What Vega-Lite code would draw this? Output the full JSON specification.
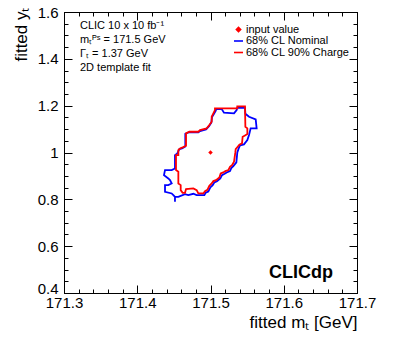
{
  "$schema": "https://vega.github.io/schema/vega-lite/v6.json",
  "width": 293,
  "height": 281,
  "autosize": {"type": "none"},
  "padding": {"left": 64, "top": 12, "right": 42, "bottom": 45},
  "background": "white",
  "datasets": {
    "nominal": [
      {"series": "68% CL Nominal", "i": 1, "mt": 171.5075, "yt": 1.1798},
      {"series": "68% CL Nominal", "i": 2, "mt": 171.5075, "yt": 1.1855},
      {"series": "68% CL Nominal", "i": 3, "mt": 171.5153, "yt": 1.1855},
      {"series": "68% CL Nominal", "i": 4, "mt": 171.5184, "yt": 1.1698},
      {"series": "68% CL Nominal", "i": 5, "mt": 171.5321, "yt": 1.1670},
      {"series": "68% CL Nominal", "i": 6, "mt": 171.5357, "yt": 1.1812},
      {"series": "68% CL Nominal", "i": 7, "mt": 171.5366, "yt": 1.1912},
      {"series": "68% CL Nominal", "i": 8, "mt": 171.5471, "yt": 1.1912},
      {"series": "68% CL Nominal", "i": 9, "mt": 171.5476, "yt": 1.1655},
      {"series": "68% CL Nominal", "i": 10, "mt": 171.5526, "yt": 1.1527},
      {"series": "68% CL Nominal", "i": 11, "mt": 171.5617, "yt": 1.1413},
      {"series": "68% CL Nominal", "i": 12, "mt": 171.5630, "yt": 1.1029},
      {"series": "68% CL Nominal", "i": 13, "mt": 171.5548, "yt": 1.1029},
      {"series": "68% CL Nominal", "i": 14, "mt": 171.5526, "yt": 1.0744},
      {"series": "68% CL Nominal", "i": 15, "mt": 171.5503, "yt": 1.0530},
      {"series": "68% CL Nominal", "i": 16, "mt": 171.5457, "yt": 1.0345},
      {"series": "68% CL Nominal", "i": 17, "mt": 171.5403, "yt": 1.0302},
      {"series": "68% CL Nominal", "i": 18, "mt": 171.5385, "yt": 1.0174},
      {"series": "68% CL Nominal", "i": 19, "mt": 171.5366, "yt": 1.0003},
      {"series": "68% CL Nominal", "i": 20, "mt": 171.5353, "yt": 0.9576},
      {"series": "68% CL Nominal", "i": 21, "mt": 171.5312, "yt": 0.9419},
      {"series": "68% CL Nominal", "i": 22, "mt": 171.5284, "yt": 0.9333},
      {"series": "68% CL Nominal", "i": 23, "mt": 171.5266, "yt": 0.9205},
      {"series": "68% CL Nominal", "i": 24, "mt": 171.5221, "yt": 0.9148},
      {"series": "68% CL Nominal", "i": 25, "mt": 171.5193, "yt": 0.9091},
      {"series": "68% CL Nominal", "i": 26, "mt": 171.5157, "yt": 0.9034},
      {"series": "68% CL Nominal", "i": 27, "mt": 171.5134, "yt": 0.8892},
      {"series": "68% CL Nominal", "i": 28, "mt": 171.5089, "yt": 0.8778},
      {"series": "68% CL Nominal", "i": 29, "mt": 171.5052, "yt": 0.8721},
      {"series": "68% CL Nominal", "i": 30, "mt": 171.5030, "yt": 0.8607},
      {"series": "68% CL Nominal", "i": 31, "mt": 171.4998, "yt": 0.8507},
      {"series": "68% CL Nominal", "i": 32, "mt": 171.4970, "yt": 0.8336},
      {"series": "68% CL Nominal", "i": 33, "mt": 171.4934, "yt": 0.8279},
      {"series": "68% CL Nominal", "i": 34, "mt": 171.4916, "yt": 0.8180},
      {"series": "68% CL Nominal", "i": 35, "mt": 171.4811, "yt": 0.8180},
      {"series": "68% CL Nominal", "i": 36, "mt": 171.4766, "yt": 0.8237},
      {"series": "68% CL Nominal", "i": 37, "mt": 171.4697, "yt": 0.8180},
      {"series": "68% CL Nominal", "i": 38, "mt": 171.4652, "yt": 0.8222},
      {"series": "68% CL Nominal", "i": 39, "mt": 171.4561, "yt": 0.8108},
      {"series": "68% CL Nominal", "i": 40, "mt": 171.4515, "yt": 0.8108},
      {"series": "68% CL Nominal", "i": 41, "mt": 171.4515, "yt": 0.7895},
      {"series": "68% CL Nominal", "i": 42, "mt": 171.4515, "yt": 0.8108},
      {"series": "68% CL Nominal", "i": 43, "mt": 171.4493, "yt": 0.8180},
      {"series": "68% CL Nominal", "i": 44, "mt": 171.4470, "yt": 0.8251},
      {"series": "68% CL Nominal", "i": 45, "mt": 171.4379, "yt": 0.8322},
      {"series": "68% CL Nominal", "i": 46, "mt": 171.4379, "yt": 0.8607},
      {"series": "68% CL Nominal", "i": 47, "mt": 171.4424, "yt": 0.8607},
      {"series": "68% CL Nominal", "i": 48, "mt": 171.4470, "yt": 0.8678},
      {"series": "68% CL Nominal", "i": 49, "mt": 171.4447, "yt": 0.8821},
      {"series": "68% CL Nominal", "i": 50, "mt": 171.4424, "yt": 0.8892},
      {"series": "68% CL Nominal", "i": 51, "mt": 171.4365, "yt": 0.9034},
      {"series": "68% CL Nominal", "i": 52, "mt": 171.4379, "yt": 0.9248},
      {"series": "68% CL Nominal", "i": 53, "mt": 171.4470, "yt": 0.9248},
      {"series": "68% CL Nominal", "i": 54, "mt": 171.4515, "yt": 0.9319},
      {"series": "68% CL Nominal", "i": 55, "mt": 171.4515, "yt": 0.9889},
      {"series": "68% CL Nominal", "i": 56, "mt": 171.4547, "yt": 0.9960},
      {"series": "68% CL Nominal", "i": 57, "mt": 171.4575, "yt": 1.0145},
      {"series": "68% CL Nominal", "i": 58, "mt": 171.4611, "yt": 1.0174},
      {"series": "68% CL Nominal", "i": 59, "mt": 171.4656, "yt": 1.0259},
      {"series": "68% CL Nominal", "i": 60, "mt": 171.4656, "yt": 1.0801},
      {"series": "68% CL Nominal", "i": 61, "mt": 171.4702, "yt": 1.0858},
      {"series": "68% CL Nominal", "i": 62, "mt": 171.4834, "yt": 1.0858},
      {"series": "68% CL Nominal", "i": 63, "mt": 171.4857, "yt": 1.0915},
      {"series": "68% CL Nominal", "i": 64, "mt": 171.4939, "yt": 1.0986},
      {"series": "68% CL Nominal", "i": 65, "mt": 171.4980, "yt": 1.1128},
      {"series": "68% CL Nominal", "i": 66, "mt": 171.5011, "yt": 1.1271},
      {"series": "68% CL Nominal", "i": 67, "mt": 171.5021, "yt": 1.1513},
      {"series": "68% CL Nominal", "i": 68, "mt": 171.5048, "yt": 1.1655},
      {"series": "68% CL Nominal", "i": 69, "mt": 171.5075, "yt": 1.1798}
    ],
    "charge": [
      {"series": "68% CL 90% Charge", "i": 1, "mt": 171.5061, "yt": 1.1812},
      {"series": "68% CL 90% Charge", "i": 2, "mt": 171.5061, "yt": 1.1883},
      {"series": "68% CL 90% Charge", "i": 3, "mt": 171.5366, "yt": 1.1883},
      {"series": "68% CL 90% Charge", "i": 4, "mt": 171.5366, "yt": 1.1969},
      {"series": "68% CL 90% Charge", "i": 5, "mt": 171.5471, "yt": 1.1969},
      {"series": "68% CL 90% Charge", "i": 6, "mt": 171.5476, "yt": 1.1100},
      {"series": "68% CL 90% Charge", "i": 7, "mt": 171.5503, "yt": 1.1029},
      {"series": "68% CL 90% Charge", "i": 8, "mt": 171.5503, "yt": 1.0786},
      {"series": "68% CL 90% Charge", "i": 9, "mt": 171.5471, "yt": 1.0729},
      {"series": "68% CL 90% Charge", "i": 10, "mt": 171.5439, "yt": 1.0672},
      {"series": "68% CL 90% Charge", "i": 11, "mt": 171.5430, "yt": 1.0388},
      {"series": "68% CL 90% Charge", "i": 12, "mt": 171.5394, "yt": 1.0331},
      {"series": "68% CL 90% Charge", "i": 13, "mt": 171.5371, "yt": 1.0245},
      {"series": "68% CL 90% Charge", "i": 14, "mt": 171.5344, "yt": 1.0145},
      {"series": "68% CL 90% Charge", "i": 15, "mt": 171.5339, "yt": 1.0003},
      {"series": "68% CL 90% Charge", "i": 16, "mt": 171.5321, "yt": 0.9604},
      {"series": "68% CL 90% Charge", "i": 17, "mt": 171.5294, "yt": 0.9462},
      {"series": "68% CL 90% Charge", "i": 18, "mt": 171.5266, "yt": 0.9390},
      {"series": "68% CL 90% Charge", "i": 19, "mt": 171.5244, "yt": 0.9248},
      {"series": "68% CL 90% Charge", "i": 20, "mt": 171.5203, "yt": 0.9205},
      {"series": "68% CL 90% Charge", "i": 21, "mt": 171.5175, "yt": 0.9148},
      {"series": "68% CL 90% Charge", "i": 22, "mt": 171.5139, "yt": 0.9105},
      {"series": "68% CL 90% Charge", "i": 23, "mt": 171.5121, "yt": 0.8935},
      {"series": "68% CL 90% Charge", "i": 24, "mt": 171.5075, "yt": 0.8821},
      {"series": "68% CL 90% Charge", "i": 25, "mt": 171.5039, "yt": 0.8778},
      {"series": "68% CL 90% Charge", "i": 26, "mt": 171.5016, "yt": 0.8678},
      {"series": "68% CL 90% Charge", "i": 27, "mt": 171.4984, "yt": 0.8578},
      {"series": "68% CL 90% Charge", "i": 28, "mt": 171.4957, "yt": 0.8407},
      {"series": "68% CL 90% Charge", "i": 29, "mt": 171.4925, "yt": 0.8350},
      {"series": "68% CL 90% Charge", "i": 30, "mt": 171.4902, "yt": 0.8251},
      {"series": "68% CL 90% Charge", "i": 31, "mt": 171.4834, "yt": 0.8251},
      {"series": "68% CL 90% Charge", "i": 32, "mt": 171.4811, "yt": 0.8393},
      {"series": "68% CL 90% Charge", "i": 33, "mt": 171.4766, "yt": 0.8464},
      {"series": "68% CL 90% Charge", "i": 34, "mt": 171.4666, "yt": 0.8436},
      {"series": "68% CL 90% Charge", "i": 35, "mt": 171.4652, "yt": 0.8279},
      {"series": "68% CL 90% Charge", "i": 36, "mt": 171.4620, "yt": 0.8279},
      {"series": "68% CL 90% Charge", "i": 37, "mt": 171.4593, "yt": 0.8393},
      {"series": "68% CL 90% Charge", "i": 38, "mt": 171.4593, "yt": 0.8607},
      {"series": "68% CL 90% Charge", "i": 39, "mt": 171.4561, "yt": 0.8678},
      {"series": "68% CL 90% Charge", "i": 40, "mt": 171.4561, "yt": 0.9177},
      {"series": "68% CL 90% Charge", "i": 41, "mt": 171.4529, "yt": 0.9248},
      {"series": "68% CL 90% Charge", "i": 42, "mt": 171.4529, "yt": 0.9889},
      {"series": "68% CL 90% Charge", "i": 43, "mt": 171.4561, "yt": 0.9889},
      {"series": "68% CL 90% Charge", "i": 44, "mt": 171.4561, "yt": 1.0103},
      {"series": "68% CL 90% Charge", "i": 45, "mt": 171.4584, "yt": 1.0174},
      {"series": "68% CL 90% Charge", "i": 46, "mt": 171.4620, "yt": 1.0217},
      {"series": "68% CL 90% Charge", "i": 47, "mt": 171.4666, "yt": 1.0288},
      {"series": "68% CL 90% Charge", "i": 48, "mt": 171.4666, "yt": 1.0815},
      {"series": "68% CL 90% Charge", "i": 49, "mt": 171.4711, "yt": 1.0886},
      {"series": "68% CL 90% Charge", "i": 50, "mt": 171.4834, "yt": 1.0886},
      {"series": "68% CL 90% Charge", "i": 51, "mt": 171.4857, "yt": 1.0957},
      {"series": "68% CL 90% Charge", "i": 52, "mt": 171.4948, "yt": 1.1029},
      {"series": "68% CL 90% Charge", "i": 53, "mt": 171.4984, "yt": 1.1171},
      {"series": "68% CL 90% Charge", "i": 54, "mt": 171.5016, "yt": 1.1313},
      {"series": "68% CL 90% Charge", "i": 55, "mt": 171.5016, "yt": 1.1527},
      {"series": "68% CL 90% Charge", "i": 56, "mt": 171.5039, "yt": 1.1670},
      {"series": "68% CL 90% Charge", "i": 57, "mt": 171.5061, "yt": 1.1812}
    ],
    "input": [
      {"series": "input value", "mt": 171.5, "yt": 1.0}
    ]
  },
  "layer": [
    {
      "data": {"name": "nominal"},
      "mark": {"type": "line", "strokeWidth": 1.8, "interpolate": "linear"},
      "encoding": {
        "x": {"field": "mt", "type": "quantitative",
              "scale": {"domain": [171.3, 171.7], "nice": false, "zero": false},
              "axis": {"orient": "bottom", "values": [171.3, 171.4, 171.5, 171.6, 171.7], "format": ".1f",
                       "tickSize": -8, "labelPadding": 10, "labelFlush": false, "labelOverlap": false,
                       "title": "fitted mₜ [GeV]", "titleAnchor": "end", "titleAlign": "right", "titleFontSize": 17,
                       "titleX": 293, "titleY": 34, "titleBaseline": "alphabetic"}},
        "y": {"field": "yt", "type": "quantitative",
              "scale": {"domain": [0.4, 1.6], "nice": false, "zero": false},
              "axis": {"orient": "left", "values": [0.4, 0.6, 0.8, 1.0, 1.2, 1.4, 1.6], "format": ".1~f",
                       "tickSize": -8, "labelPadding": 14, "labelFlush": false, "labelOverlap": false,
                       "labelBaseline": {"condition": {"test": "datum.value === 0.4", "value": "alphabetic"}, "value": "middle"},
                       "title": "fitted yₜ", "titleAngle": 270, "titleAlign": "right", "titleBaseline": "alphabetic", "titleFontSize": 17,
                       "titleX": -38, "titleY": -5}},
        "color": {"field": "series", "type": "nominal",
                  "scale": {"domain": ["input value", "68% CL Nominal", "68% CL 90% Charge"], "range": ["#ff0000", "#0000ff", "#ff0000"]},
                  "legend": {"orient": "none", "legendX": 169, "legendY": 12, "title": null,
                             "labelFont": "Liberation Sans", "labelFontSize": 11, "labelColor": "black",
                             "symbolSize": 81, "rowPadding": -0.5, "labelOffset": 2, "padding": 0,
                             "encode": {"symbols": {"update": {
                               "shape": {"signal": "datum.value === 'input value' ? 'diamond' : 'stroke'"},
                               "size": {"signal": "datum.value === 'input value' ? 18 : 81"},
                               "fill": {"signal": "datum.value === 'input value' ? '#ff0000' : 'transparent'"},
                               "stroke": {"signal": "datum.value === 'input value' ? 'transparent' : (datum.value === '68% CL Nominal' ? '#0000ff' : '#ff0000')"},
                               "strokeWidth": {"value": 1.6},
                               "opacity": {"value": 1}}}}}},
        "order": {"field": "i", "type": "quantitative"}
      }
    },
    {
      "data": {"name": "charge"},
      "mark": {"type": "line", "strokeWidth": 1.8, "interpolate": "linear"},
      "encoding": {
        "x": {"field": "mt", "type": "quantitative",
              "axis": {"orient": "bottom", "values": [171.32, 171.34, 171.36, 171.38, 171.42, 171.44, 171.46, 171.48, 171.52, 171.54, 171.56, 171.58, 171.62, 171.64, 171.66, 171.68],
                       "tickSize": -4, "labels": false, "domain": false, "title": null}},
        "y": {"field": "yt", "type": "quantitative",
              "axis": {"orient": "left", "values": [0.45, 0.5, 0.55, 0.65, 0.7, 0.75, 0.85, 0.9, 0.95, 1.05, 1.1, 1.15, 1.25, 1.3, 1.35, 1.45, 1.5, 1.55],
                       "tickSize": -4, "labels": false, "domain": false, "title": null}},
        "color": {"field": "series", "type": "nominal"},
        "order": {"field": "i", "type": "quantitative"}
      }
    },
    {
      "data": {"name": "input"},
      "mark": {"type": "point", "shape": "diamond", "filled": true, "size": 20, "opacity": 1},
      "encoding": {
        "x": {"field": "mt", "type": "quantitative",
              "axis": {"orient": "top", "values": [171.3, 171.4, 171.5, 171.6, 171.7], "tickSize": -8, "labels": false, "title": null}},
        "y": {"field": "yt", "type": "quantitative",
              "axis": {"orient": "right", "values": [0.4, 0.6, 0.8, 1.0, 1.2, 1.4, 1.6], "tickSize": -8, "labels": false, "title": null}},
        "color": {"field": "series", "type": "nominal"}
      }
    },
    {
      "data": {"values": [{}]},
      "mark": {"type": "text", "align": "left", "baseline": "alphabetic", "font": "Liberation Sans", "fontSize": 11, "lineHeight": 14, "color": "black",
               "text": ["CLIC 10 x 10 fb⁻¹", "mₜᴾˢ = 171.5 GeV", "Γₜ = 1.37 GeV", "2D template fit"]},
      "encoding": {
        "x": {"datum": 171.3218, "type": "quantitative",
              "axis": {"orient": "top", "values": [171.32, 171.34, 171.36, 171.38, 171.42, 171.44, 171.46, 171.48, 171.52, 171.54, 171.56, 171.58, 171.62, 171.64, 171.66, 171.68],
                       "tickSize": -4, "labels": false, "domain": false, "title": null}},
        "y": {"datum": 1.5274, "type": "quantitative",
              "axis": {"orient": "right", "values": [0.45, 0.5, 0.55, 0.65, 0.7, 0.75, 0.85, 0.9, 0.95, 1.05, 1.1, 1.15, 1.25, 1.3, 1.35, 1.45, 1.5, 1.55],
                       "tickSize": -4, "labels": false, "domain": false, "title": null}}
      }
    },
    {
      "data": {"values": [{}]},
      "mark": {"type": "text", "align": "right", "baseline": "alphabetic", "font": "Liberation Sans", "fontSize": 18, "fontWeight": "bold", "color": "black", "text": "CLICdp"},
      "encoding": {
        "x": {"datum": 171.6672, "type": "quantitative", "axis": null},
        "y": {"datum": 0.4632, "type": "quantitative", "axis": null}
      }
    }
  ],
  "resolve": {"axis": {"x": "independent", "y": "independent"}},
  "config": {
    "font": "Liberation Sans",
    "view": {"stroke": "black", "strokeWidth": 1},
    "axis": {"grid": false, "domainColor": "black", "tickColor": "black", "labelColor": "black", "titleColor": "black",
             "labelFont": "Liberation Sans", "titleFont": "Liberation Sans", "labelFontSize": 15, "titleFontSize": 16,
             "titleFontWeight": "normal", "domainWidth": 1, "tickWidth": 1}
  }
}
